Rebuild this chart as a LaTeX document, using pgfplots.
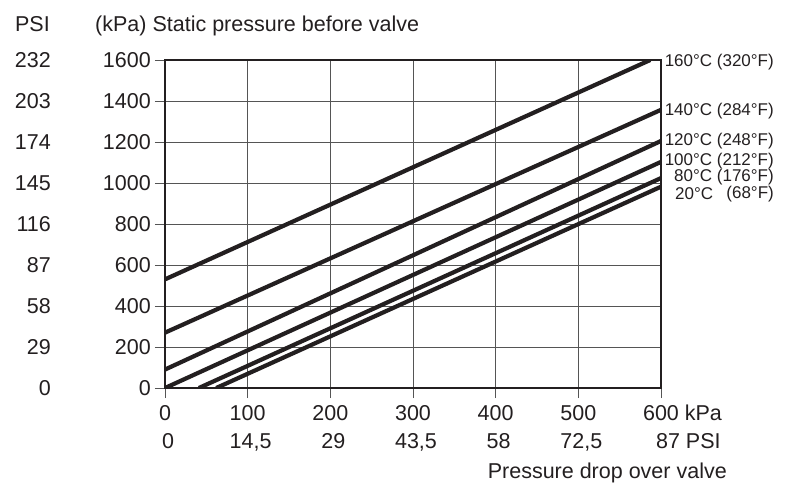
\documentclass[border=0pt]{standalone}
\usepackage{pgfplots}
\pgfplotsset{compat=1.18}
\usetikzlibrary{calc}
\usepackage{fontspec}
\setmainfont{Liberation Sans}
\definecolor{ink}{HTML}{231F20}
\definecolor{gridc}{HTML}{555555}
\begin{document}
\fontsize{21.5}{25}\selectfont
\begin{tikzpicture}[x=1pt,y=1pt]
\begin{axis}[
  name=ax,
  scale only axis, width=496pt, height=328pt,
  xmin=0, xmax=600, ymin=0, ymax=1600,
  xtick={0,100,200,300,400,500,600},
  ytick={0,200,400,600,800,1000,1200,1400,1600},
  xticklabels={0,100,200,300,400,500,600\rlap{ kPa}},
  yticklabels={0,200,400,600,800,1000,1200,1400,1600},
  xtick pos=lower, ytick pos=left,
  tick align=outside, major tick length=10pt,
  tick style={gridc, line width=0.9pt},
  grid=major, major grid style={gridc, line width=0.9pt},
  axis line style={ink, line width=2pt},
  ticklabel style={font=\fontsize{21.5}{25}\selectfont, text=ink},
  xticklabel style={inner sep=3pt, yshift=-4pt},
  yticklabel style={inner sep=4pt},
]
\addplot[ink, line width=4.2pt] coordinates {(0,530) (587,1600)};
\addplot[ink, line width=4.2pt] coordinates {(0,270) (600,1357)};
\addplot[ink, line width=4.2pt] coordinates {(0,90) (600,1205)};
\addplot[ink, line width=4.2pt] coordinates {(0,0) (600,1103)};
\addplot[ink, line width=4.2pt] coordinates {(41,0) (600,1024)};
\addplot[ink, line width=4.2pt] coordinates {(62,0) (600,982)};
\end{axis}
\begin{scope}[shift={($(ax.south west)+(-165,-95)$)}]
% PSI column on the left
\foreach \v [count=\i from 0] in {0,29,58,87,116,145,174,203,232}
  \node[text=ink, anchor=east, inner sep=0] at (51, 95+\i*41) {\v};
% PSI row below x axis
\foreach \v [count=\i from 0] in {0,14{,}5,29,43{,}5,58,72{,}5}
  \node[text=ink, anchor=base, inner sep=0] at (168+\i*82.67, 35) {\v};
\node[text=ink, anchor=base, inner sep=0] at (668, 35) {87\rlap{ PSI}};
% titles
\node[text=ink, anchor=base east, inner sep=0] at (50, 451) {PSI};
\node[text=ink, anchor=base west, inner sep=0] at (95, 451) {(kPa) Static pressure before valve};
\node[text=ink, anchor=base east, inner sep=0] at (727, 5) {Pressure drop over valve};
% curve labels
\begin{scope}[every node/.style={text=ink, inner sep=0, font=\fontsize{17}{20}\selectfont}]
\node[anchor=east] at (774, 420.5) {160°C (320°F)};
\node[anchor=east] at (774, 372) {140°C (284°F)};
\node[anchor=east] at (774, 341.5) {120°C (248°F)};
\node[anchor=east] at (774, 321.5) {100°C (212°F)};
\node[anchor=east] at (774, 305.5) {80°C (176°F)};
\node[anchor=west] at (675, 289) {20°C};
\node[anchor=east] at (774, 289) {(68°F)};
\end{scope}
\pgfresetboundingbox
\path (0,0) rectangle (787,483);
\end{scope}
\end{tikzpicture}
\end{document}
